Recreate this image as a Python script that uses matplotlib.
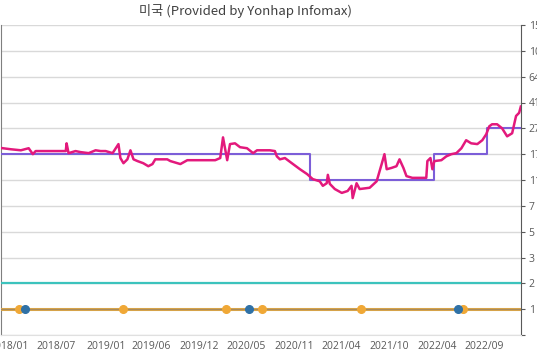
import numpy as np
import pandas as pd
import matplotlib
matplotlib.use("Agg")
import matplotlib.pyplot as plt

# --- données ---
niveaux = [0, 1, 2, 3, 5, 7, 11, 17, 27, 41, 64, 100, 155]
etiquettes_y = ["", "1", "2", "3", "5", "7", "11", "17", "27", "41", "64", "100", "155"]

dates_ticks = ["2018-01-16", "2018-07-05", "2019-01-01", "2019-06-11", "2019-12-01",
               "2020-05-17", "2020-11-04", "2021-04-23", "2021-10-11", "2022-04-01",
               "2022-09-17"]
etiquettes_x = ["2018/01", "2018/07", "2019/01", "2019/06", "2019/12", "2020/05",
                "2020/11", "2021/04", "2021/10", "2022/04", "2022/09"]

serie_dates = ["2017-12-18", "2018-01-23", "2018-02-28", "2018-03-28", "2018-04-12",
               "2018-04-22", "2018-08-08", "2018-08-11", "2018-08-18", "2018-09-12",
               "2018-09-30", "2018-10-29", "2018-11-23", "2018-12-11", "2018-12-29",
               "2019-01-23", "2019-02-13", "2019-02-20", "2019-03-03", "2019-03-17",
               "2019-03-28", "2019-04-08", "2019-04-22", "2019-05-13", "2019-05-31",
               "2019-06-15", "2019-06-25", "2019-08-07", "2019-08-18", "2019-09-23",
               "2019-10-18", "2019-12-03", "2020-01-26", "2020-02-13", "2020-02-23",
               "2020-03-09", "2020-03-19", "2020-04-06", "2020-04-24", "2020-05-19",
               "2020-06-10", "2020-06-24", "2020-08-09", "2020-08-27", "2020-09-03",
               "2020-09-14", "2020-10-02", "2020-10-31", "2020-11-25", "2020-12-20",
               "2021-01-10", "2021-02-04", "2021-02-15", "2021-03-01", "2021-03-05",
               "2021-03-12", "2021-03-30", "2021-04-24", "2021-05-15", "2021-05-29",
               "2021-06-02", "2021-06-16", "2021-06-27", "2021-08-02", "2021-08-27",
               "2021-09-14", "2021-09-24", "2021-10-02", "2021-10-19", "2021-11-06",
               "2021-11-17", "2021-12-01", "2021-12-12", "2022-01-02", "2022-02-21",
               "2022-02-25", "2022-03-08", "2022-03-15", "2022-03-22", "2022-04-16",
               "2022-05-04", "2022-05-22", "2022-06-09", "2022-06-27", "2022-07-14",
               "2022-08-01", "2022-08-23", "2022-09-10", "2022-09-24", "2022-10-05",
               "2022-10-15", "2022-11-02", "2022-11-20", "2022-12-08", "2022-12-26",
               "2023-01-09", "2023-01-20", "2023-01-26"]
serie_valeurs = [19.4, 18.9, 18.5, 19.3, 17.0, 18.2, 18.2, 21.2, 17.4, 18.2,
                 17.8, 17.4, 18.5, 18.2, 18.2, 17.4, 20.9, 16.1, 14.9, 15.8,
                 18.5, 15.8, 15.4, 14.9, 14.2, 14.7, 15.8, 15.8, 15.4, 14.7,
                 15.6, 15.6, 15.6, 16.1, 23.5, 15.6, 20.9, 21.2, 19.7, 19.3,
                 17.4, 18.5, 18.5, 18.2, 16.5, 15.8, 16.1, 14.7, 13.5, 12.4,
                 11.2, 10.8, 10.1, 10.5, 12.2, 10.4, 9.6, 9.0, 9.3, 10.1,
                 8.2, 10.5, 9.6, 9.8, 10.8, 14.7, 17.0, 13.5, 13.8, 14.2,
                 15.8, 13.8, 11.9, 11.5, 11.5, 15.4, 16.1, 13.5, 15.4, 15.6,
                 16.5, 17.0, 17.4, 19.3, 22.4, 21.2, 20.9, 22.4, 24.7, 28.1,
                 29.2, 29.2, 27.0, 23.9, 25.1, 33.7, 35.4, 38.8]

paliers_dates = ["2017-12-18", "2020-12-30", "2022-03-22", "2022-09-28", "2023-01-27"]
paliers_valeurs = [17, 11, 17, 27, 27]

ligne_cyan = 2
ligne_orange = 1
points_orange = ["2018-02-21", "2019-03-03", "2020-03-05", "2020-07-12", "2021-07-01",
                 "2022-07-04"]
points_bleus = ["2018-03-14", "2020-05-26", "2022-06-16"]

debut, fin = "2017-12-19", "2023-01-27"

# --- échelle non linéaire de l'axe Y ---
idx = np.arange(len(niveaux))


def vers_idx(v):
    return np.interp(v, niveaux, idx)


def depuis_idx(i):
    return np.interp(i, idx, niveaux)


fig = plt.figure(figsize=(5.37, 3.55), dpi=100)
ax = fig.add_axes([0.002, 1 - 335 / 355, 520 / 537, 310 / 355])
ax.set_yscale("function", functions=(vers_idx, depuis_idx))

x0, x1 = pd.to_datetime(debut), pd.to_datetime(fin)
ax.plot([x0, x1], [ligne_cyan, ligne_cyan], color="#3cc3bd", lw=1.6, zorder=3)
ax.plot([x0, x1], [ligne_orange, ligne_orange], color="#d9a548", lw=2.2, zorder=3)
ax.plot([x0, x1], [ligne_orange, ligne_orange], color="#a88a5c", lw=0.8, zorder=3)
ax.plot(pd.to_datetime(points_orange), [ligne_orange] * len(points_orange), "o",
        color="#f0a836", ms=5.5, zorder=4)
ax.plot(pd.to_datetime(points_bleus), [ligne_orange] * len(points_bleus), "o",
        color="#2f71a6", ms=5.5, zorder=5)

ax.step(pd.to_datetime(paliers_dates), paliers_valeurs, where="post",
        color="#7c5ed8", lw=1.5, zorder=3)
ax.plot(pd.to_datetime(serie_dates), serie_valeurs, color="#e3197c", lw=1.8, zorder=4)

ax.set_xlim(x0, x1)
ax.set_ylim(0, 155)

ax.set_yticks(niveaux)
ax.set_yticklabels(etiquettes_y)
ax.yaxis.set_minor_locator(matplotlib.ticker.NullLocator())
ax.yaxis.tick_right()
ax.tick_params(axis="y", length=3, width=0.8, color="#595959", pad=2.5,
               labelsize=7.5, labelcolor="#595959")
ax.grid(axis="y", color="#d9d9d9", lw=1)

ax.set_xticks(pd.to_datetime(dates_ticks))
ax.set_xticklabels(etiquettes_x)
ax.tick_params(axis="x", length=0, pad=4, labelsize=7.5, labelcolor="#595959")

for lbl in ax.get_xticklabels() + ax.get_yticklabels():
    lbl.set_family(["Open Sans", "DejaVu Sans"])

ax.spines["top"].set_visible(False)
ax.spines["left"].set_color("#7f7f7f")
ax.spines["right"].set_color("#595959")
ax.spines["bottom"].set_color("#e0e0e0")

fig.text(0.457, 1 - 11 / 355, "미국 (Provided by Yonhap Infomax)", ha="center", va="center",
         fontsize=9.5, color="#404040", family=["Noto Sans CJK KR", "DejaVu Sans"])

fig.savefig("out.png", dpi=100)
